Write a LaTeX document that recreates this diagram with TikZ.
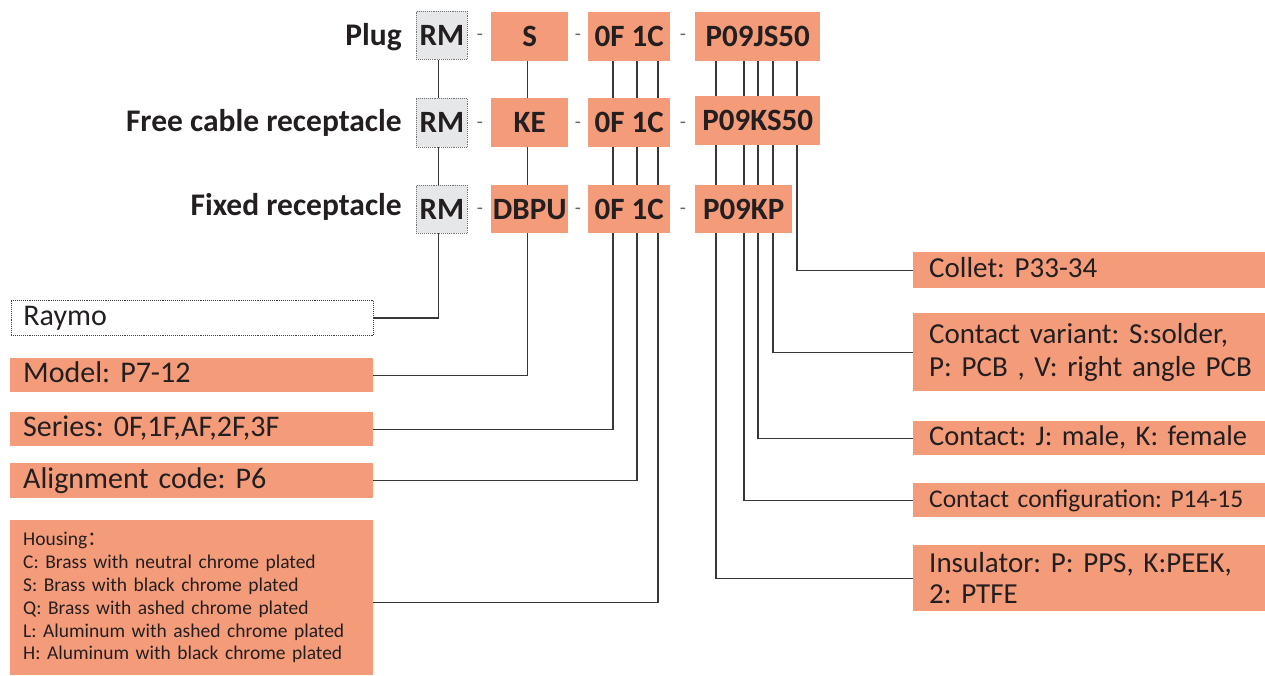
\documentclass[tikz,border=0pt]{standalone}
\usepackage{fontspec}
\setmainfont{Carlito}
\newfontfamily\cjk{Noto Sans CJK SC}
\frenchspacing
\pgfdeclarelayer{bg}
\pgfsetlayers{bg,main}
\definecolor{salmon}{RGB}{244,155,122}
\definecolor{rmgray}{RGB}{230,231,232}
\definecolor{ink}{RGB}{35,31,32}
\definecolor{wirec}{RGB}{55,55,55}
\begin{document}
\begin{tikzpicture}[x=1pt,y=-1pt,
 code/.style={fill=salmon,text=ink,font=\fontsize{31}{36}\selectfont\bfseries,inner sep=0pt,anchor=north west,text height=20pt,text depth=0pt},
 rmbox/.style={code,fill=rmgray,draw=black!55,densely dotted,line width=0.9pt},
 rowlab/.style={text=ink,font=\fontsize{31.5}{36}\selectfont\bfseries,inner sep=0pt,anchor=base east},
 sepmark/.style={text=black!60,font=\fontsize{20}{24}\selectfont,inner sep=0pt},
 lbox/.style={fill=salmon,text=ink,font=\fontsize{30}{33}\selectfont,anchor=north west,inner xsep=13pt,inner ysep=0pt,text width=337pt,align=left},
 rbox/.style={fill=salmon,text=ink,font=\fontsize{29}{33}\selectfont,anchor=north west,inner xsep=16pt,inner ysep=0pt,text width=320pt,align=left},
 wire/.style={draw=wirec,line width=1.3pt}]
\useasboundingbox (0,0) rectangle (1265,676);

% row labels
\node[rowlab] (lplug) at (402,46) {Plug};
\node[rowlab] (lfree) at (402,132) {Free cable receptacle};
\node[rowlab] (lfix) at (402,216) {Fixed receptacle};

% row 1
\node[rmbox,minimum width=51pt,minimum height=48pt] (rm1) at (416,11) {RM};
\node[code,minimum width=77pt,minimum height=49pt] (s) at (491,12) {S};
\node[code,minimum width=82pt,minimum height=49pt] (of1) at (588,12) {0F 1C};
\node[code,minimum width=125pt,minimum height=49pt] (p1) at (695,12) {P09JS50};
% row 2
\node[rmbox,minimum width=51pt,minimum height=49pt] (rm2) at (416,98) {RM};
\node[code,minimum width=77pt,minimum height=49pt] (ke) at (491,98) {KE};
\node[code,minimum width=82pt,minimum height=49pt] (of2) at (588,98) {0F 1C};
\node[code,minimum width=125pt,minimum height=49pt] (p2) at (695,96) {P09KS50};
% row 3
\node[rmbox,minimum width=51pt,minimum height=48pt] (rm3) at (416,185) {RM};
\node[code,minimum width=77pt,minimum height=48pt] (dbpu) at (491,185) {DBPU};
\node[code,minimum width=82pt,minimum height=48pt] (of3) at (588,185) {0F 1C};
\node[code,minimum width=97pt,minimum height=48pt] (p3) at (695,185) {P09KP};

% separators
\foreach \r/\y in {1/37,2/125,3/211}{
  \node[sepmark] (da\r) at (480,\y) {-};
  \node[sepmark] (db\r) at (578,\y) {-};
  \node[sepmark] (dc\r) at (683,\y) {-};
}

% left boxes
\node[lbox,fill=white,draw=black!75,densely dotted,line width=0.9pt,text width=338pt,inner xsep=12pt,minimum height=35pt,text height=21pt,text depth=6pt] (raymo) at (11,300) {Raymo};
\node[lbox,minimum height=34pt,text height=21pt,text depth=6pt] (model) at (10,358) {Model: P7-12};
\node[lbox,minimum height=34pt,text height=21pt,text depth=6pt] (series) at (10,412) {Series: 0F,1F,AF,2F,3F};
\node[lbox,minimum height=35pt,text height=21pt,text depth=6pt] (align) at (10,463) {Alignment code: P6};
\node[lbox,minimum height=155pt,font=\fontsize{19.5}{22.8}\selectfont] (housing) at (10,520) {Housing{\cjk ：}\\C: Brass with neutral chrome plated\\S: Brass with black chrome plated\\Q: Brass with ashed chrome plated\\L: Aluminum with ashed chrome plated\\H: Aluminum with black chrome plated};

% right boxes
\node[rbox,minimum height=36pt,text height=21pt,text depth=6pt] (collet) at (913,252) {Collet: P33-34};
\node[rbox,minimum height=78pt] (variant) at (913,313) {\mbox{Contact variant: S:solder,}\\\mbox{P: PCB , V: right angle PCB}};
\node[rbox,minimum height=34pt,text height=21pt,text depth=6pt,font=\fontsize{28.5}{33}\selectfont] (contact) at (913,421) {\mbox{Contact: J: male, K: female}};
\node[rbox,minimum height=34pt,text height=19pt,text depth=5pt,font=\fontsize{25.5}{30}\selectfont] (config) at (913,483) {\mbox{Contact configuration: P14-15}};
\node[rbox,minimum height=66pt,font=\fontsize{29}{31.5}\selectfont] (insul) at (913,545) {\mbox{Insulator: P: PPS, K:PEEK,}\\2: PTFE};

% connectors
\begin{pgfonlayer}{bg}
\draw[wire] ([xshift=-3.5pt]rm1.south) |- (raymo.east);
\draw[wire] ([xshift=-2.5pt]s.south) |- (model.east);
\draw[wire] ([xshift=25pt]of1.south west) |- (series.east);
\draw[wire] ([xshift=49pt]of1.south west) |- (align.east);
\draw[wire] ([xshift=70pt]of1.south west) |- ([yshift=-4.5pt]housing.east);
\draw[wire] ([xshift=21pt]p1.south west) |- (insul.west);
\draw[wire] ([xshift=49pt]p1.south west) |- (config.west);
\draw[wire] ([xshift=63pt]p1.south west) |- (contact.west);
\draw[wire] ([xshift=78pt]p1.south west) |- (variant.west);
\draw[wire] ([xshift=102pt]p1.south west) |- (collet.west);
\end{pgfonlayer}
\end{tikzpicture}
\end{document}
